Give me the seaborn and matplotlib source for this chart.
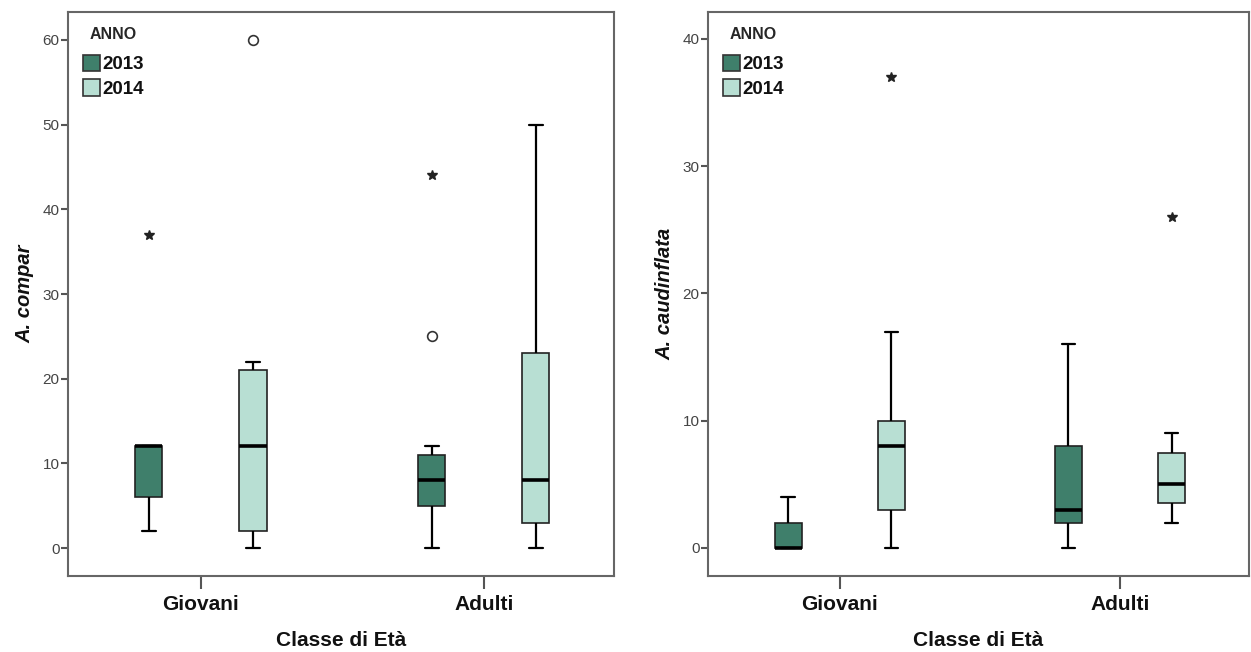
import numpy as np
import pandas as pd
import seaborn as sns
import matplotlib.pyplot as plt
from matplotlib.patches import Patch

classes = ["Giovani", "Adulti"]
years = ["2013", "2014"]

# five-number summaries: low whisker, Q1, median, Q3, high whisker
compar_2013 = [[2, 6, 12, 12, 12], [0, 5, 8, 11, 12]]
compar_2014 = [[0, 2, 12, 21, 22], [0, 3, 8, 23, 50]]
compar_out_class = ["Giovani", "Giovani", "Adulti", "Adulti"]
compar_out_year = ["2013", "2014", "2013", "2013"]
compar_out_value = [37, 60, 25, 44]
compar_out_marker = ["*", "o", "o", "*"]

caud_2013 = [[0, 0, 0, 2, 4], [0, 2, 3, 8, 16]]
caud_2014 = [[0, 3, 8, 10, 17], [2, 3.5, 5, 7.5, 9]]
caud_out_class = ["Giovani", "Adulti"]
caud_out_year = ["2014", "2014"]
caud_out_value = [37, 26]
caud_out_marker = ["*", "*"]

colors = {"2013": "#3f7f6b", "2014": "#b8dfd3"}


def long_table(s2013, s2014):
    rows = []
    for yr, summ in (("2013", s2013), ("2014", s2014)):
        for cls, vals in zip(classes, summ):
            for v in vals:
                rows.append({"classe": cls, "anno": yr, "valore": v})
    return pd.DataFrame(rows)


def draw_panel(ax, s2013, s2014, out_c, out_y, out_v, out_m, ylabel, ylim, yticks):
    df = long_table(s2013, s2014)
    sns.boxplot(data=df, x="classe", y="valore", hue="anno", order=classes,
                hue_order=years, palette=colors, saturation=1, width=0.736, gap=0.74,
                whis=np.inf, showfliers=False, linecolor="#222222", linewidth=1.2,
                medianprops={"color": "black", "linewidth": 2.6},
                whiskerprops={"color": "black", "linewidth": 1.6},
                capprops={"color": "black", "linewidth": 1.6},
                legend=False, ax=ax)
    for c, y, v, m in zip(out_c, out_y, out_v, out_m):
        xpos = classes.index(c) + (years.index(y) - 0.5) * 0.368
        if m == "o":
            ax.plot(xpos, v, "o", ms=7, mfc="white", mec="#333333", mew=1.2)
        else:
            ax.plot(xpos, v, "*", ms=7, color="#222222")

    ax.set_xlim(-0.47, 1.46)
    ax.set_ylim(*ylim)
    ax.set_yticks(yticks)
    ax.set_xlabel("Classe di Età", fontsize=15, fontweight="bold", labelpad=12,
                  color="#111111")
    ax.set_ylabel(ylabel, fontsize=14.5, fontweight="bold", style="italic", labelpad=6,
                  color="#111111")
    ax.tick_params(axis="x", bottom=True, length=9, width=1.5, color="#555555",
                   labelsize=15, pad=5, labelcolor="#111111")
    ax.tick_params(axis="y", left=True, length=5, width=1.5, color="#555555",
                   labelsize=11, pad=1, labelcolor="#444444")
    for lab in ax.get_xticklabels():
        lab.set_fontweight("bold")
    for sp in ax.spines.values():
        sp.set_visible(True)
        sp.set_color("#666666")
        sp.set_linewidth(1.5)
    ax.grid(False)

    handles = [Patch(facecolor=colors[y], edgecolor="#333333", linewidth=1.2, label=y)
               for y in years]
    leg = ax.legend(handles=handles, title="ANNO", loc="upper left", frameon=False,
                    prop={"size": 13.5, "weight": "bold"}, handlelength=0.9,
                    handleheight=1.0, handletextpad=0.12, labelspacing=0.3,
                    borderaxespad=0.5, borderpad=0.3, alignment="center")
    leg._legend_box.sep = 9
    leg.get_title().set_fontweight("bold")
    leg.get_title().set_fontsize(11.5)
    for t in leg.get_texts():
        t.set_color("#111111")


sns.set_theme(style="white")
plt.rcParams["font.family"] = ["Liberation Sans", "DejaVu Sans"]

fig = plt.figure(figsize=(12.51, 6.52), dpi=100)
ax1 = fig.add_axes([68 / 1251, 76 / 652, 546 / 1251, 564 / 652])
ax2 = fig.add_axes([708 / 1251, 76 / 652, 541 / 1251, 564 / 652])

draw_panel(ax1, compar_2013, compar_2014, compar_out_class, compar_out_year,
           compar_out_value, compar_out_marker, "A. compar", (-3.3, 63.3),
           [0, 10, 20, 30, 40, 50, 60])
draw_panel(ax2, caud_2013, caud_2014, caud_out_class, caud_out_year,
           caud_out_value, caud_out_marker, "A. caudinflata", (-2.2, 42.1),
           [0, 10, 20, 30, 40])

fig.savefig("out.png", dpi=100)
